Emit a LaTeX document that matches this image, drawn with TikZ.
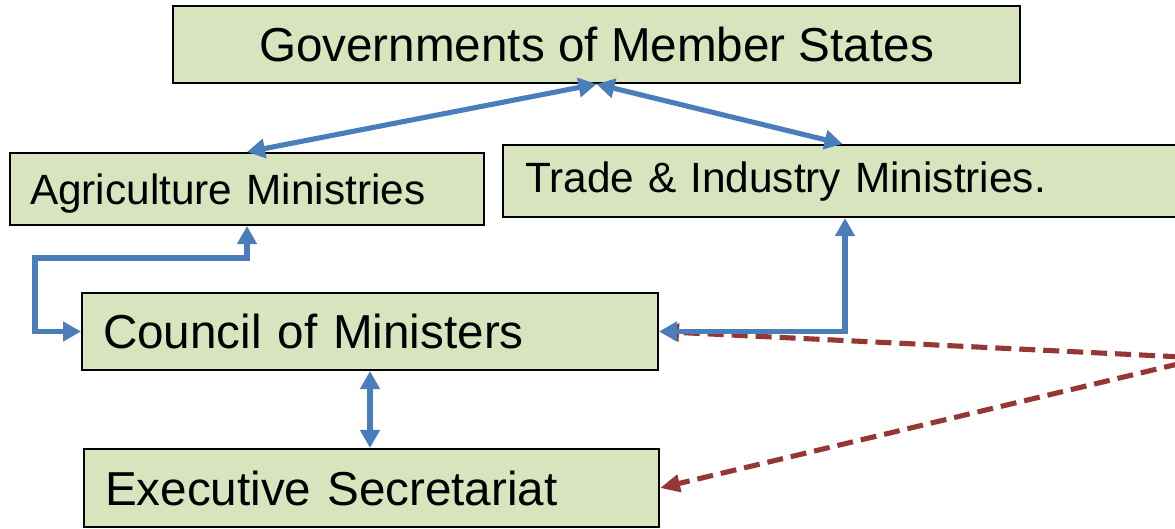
\documentclass[tikz,border=0pt]{standalone}
\usepackage{fontspec}
\setmainfont{Liberation Sans}
\usetikzlibrary{arrows.meta}
\definecolor{boxgreen}{HTML}{D7E4BD}
\definecolor{linkblue}{HTML}{4A7EBB}
\definecolor{feedred}{HTML}{953735}
\begin{document}
\begin{tikzpicture}[x=0.02cm,y=-0.02cm,
    blk/.style={draw=black,line width=1.2pt,fill=boxgreen,inner sep=0pt,text depth=0pt},
    big/.style={font=\fontsize{27.1}{32}\selectfont,text height=19.4pt},
    small/.style={font=\fontsize{24.1}{29}\selectfont,text height=17.3pt},
    link/.style={draw=linkblue,line width=2.9pt,
      {Triangle[length=0.36cm,width=0.38cm]}-{Triangle[length=0.36cm,width=0.38cm]}},
    feed/.style={draw=feedred,line width=2.9pt,dash pattern=on 0.32cm off 0.16cm,
      -{Triangle[length=0.4cm,width=0.34cm]}}]
  \useasboundingbox (0,0) rectangle (1175,528);
  \draw
    (596.5,44.5) node[blk,big,minimum width=16.94cm,minimum height=1.54cm] (gov){Governments of Member States}
    (247,189) node[blk,small,text width=8.68cm,inner xsep=0.4cm,align=left,minimum height=1.44cm] (agri){Agriculture Ministries}
    (846.5,181) node[blk,small,text width=12.86cm,inner xsep=0.44cm,align=left,minimum height=1.44cm,text depth=4.5pt] (trade){Trade \& Industry Ministries.}
    (370,331.5) node[blk,big,text width=10.68cm,inner xsep=0.42cm,align=left,minimum height=1.54cm] (council){Council of Ministers}
    (371.5,488) node[blk,big,text width=10.66cm,inner xsep=0.42cm,align=left,minimum height=1.56cm] (exec){Executive Secretariat};
  \coordinate (apex) at (1203,358);
  \coordinate (bend) at (35,258);
  % dashed feedback lines, under the blue ones
  \begin{scope}[feed]
    \draw (apex) -- (council.east);
    \draw (apex) -- (exec.east);
  \end{scope}
  \begin{scope}[link]
    \draw (gov.south) to (agri.north);
    \draw (gov.south) to ([xshift=-0.08cm]trade.north);
    \draw (agri.south) |- (bend) |- (council.west);
    \draw ([xshift=-0.03cm]trade.south) |- (council.east);
    \draw (council.south) to (council.south |- exec.north);
  \end{scope}
\end{tikzpicture}
\end{document}
